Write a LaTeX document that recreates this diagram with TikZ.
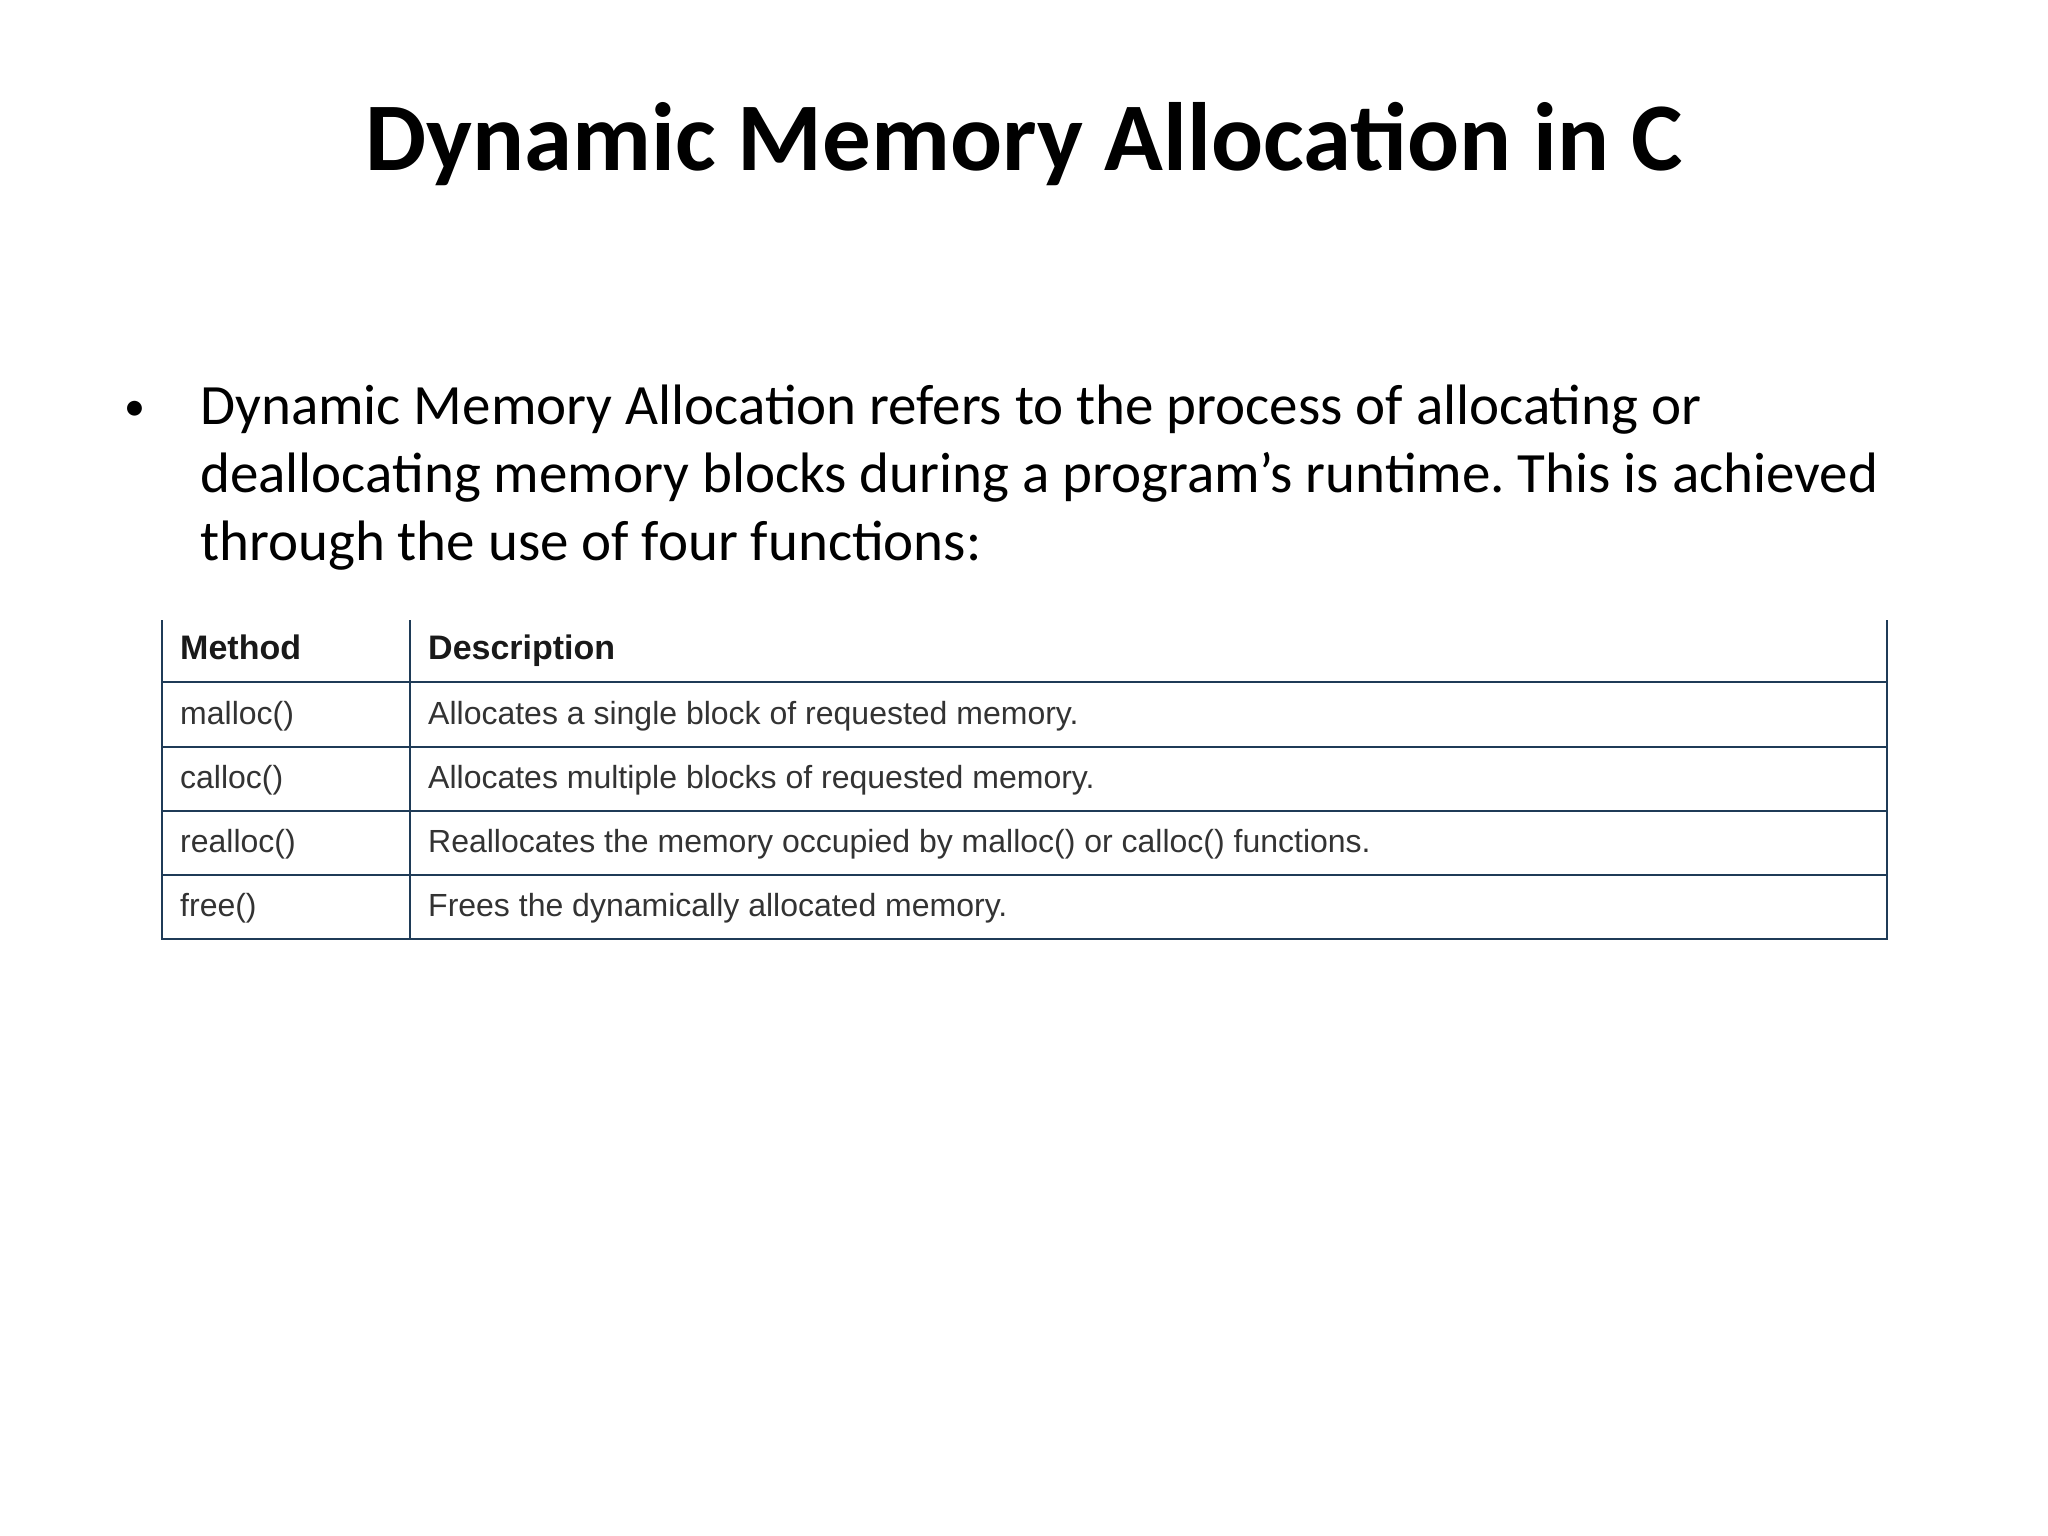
\documentclass[tikz,border=0pt]{standalone}
\usepackage{fontspec}
\setmainfont{Carlito}
\newfontfamily\tabfont{Liberation Sans}
\definecolor{rulecol}{HTML}{1F3B57}
\begin{document}
\begin{tikzpicture}[x=1pt,y=-1pt,
  body/.style={anchor=base west,inner sep=0pt,font=\fontsize{57}{68}\selectfont},
  cell/.style={anchor=base west,inner sep=0pt,text=black!80,font=\tabfont\fontsize{32}{38}\selectfont},
  hcell/.style={cell,text=black!90,font=\tabfont\bfseries\fontsize{34}{40}\selectfont},
  rule/.style={draw=rulecol,line width=2.2pt}]
\frenchspacing
\useasboundingbox (0,0) rectangle (2048,1536);
\fill[white] (0,0) rectangle (2048,1536);
\node[anchor=base,inner sep=0pt,font=\bfseries\fontsize{97}{116}\selectfont] (title) at (1024,170) {Dynamic Memory Allocation in C};
\node[body,font=\fontsize{42}{50}\selectfont] (bul) at (124,420) {•};
\node[body] (l1) at (200,424) {Dynamic Memory Allocation refers to the process of allocating or};
\node[body] (l2) at (200,492) {deallocating memory blocks during a program’s runtime. This is achieved};
\node[body] (l3) at (200,560) {through the use of four functions:};
% table
\draw[rule] (162,620) -- (162,939) -- (1887,939) -- (1887,620);
\draw[rule] (410,620) -- (410,939);
\foreach \y in {682,747,811,875} \draw[rule] (162,\y) -- (1887,\y);
\node[hcell] (h1) at (180,659) {Method};
\node[hcell] (h2) at (428,659) {Description};
\node[cell] (m1) at (180,724) {malloc()};
\node[cell] (d1) at (428,724) {Allocates a single block of requested memory.};
\node[cell] (m2) at (180,788) {calloc()};
\node[cell] (d2) at (428,788) {Allocates multiple blocks of requested memory.};
\node[cell] (m3) at (180,852) {realloc()};
\node[cell] (d3) at (428,852) {Reallocates the memory occupied by malloc() or calloc() functions.};
\node[cell] (m4) at (180,916) {free()};
\node[cell] (d4) at (428,916) {Frees the dynamically allocated memory.};
\end{tikzpicture}
\end{document}
